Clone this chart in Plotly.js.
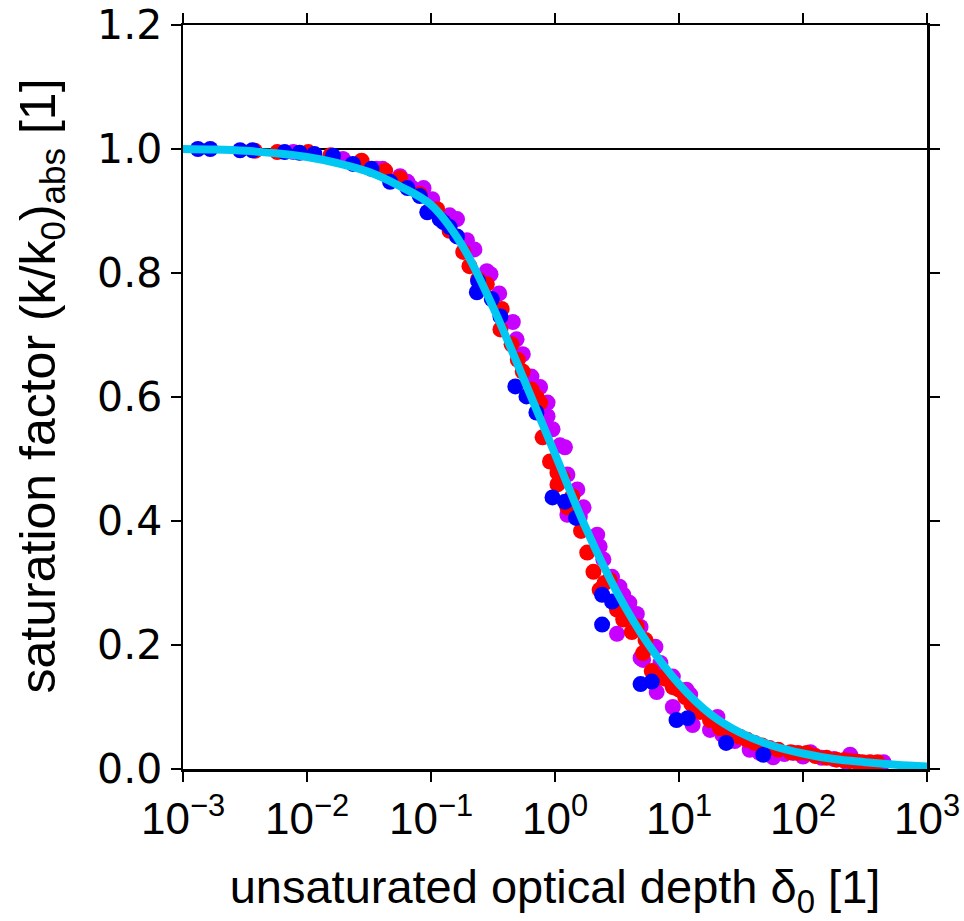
<!DOCTYPE html>
<html><head><meta charset="utf-8">
<script src="https://cdn.plot.ly/plotly-3.0.1.min.js"></script>
<style>body{margin:0;background:#fff}</style>
</head><body><div id="chart" style="width:964px;height:921px"></div>
<script>
// log10 of unsaturated optical depth and saturation factor
const curveLogDelta = [-3,-2.75,-2.5,-2.25,-2,-1.75,-1.5,-1.25,-1,-0.75,-0.5,-0.25,0,0.25,0.5,0.75,1,1.25,1.5,1.75,2,2.25,2.5,2.75,3];
const curveFactor = [1.000,0.999,0.997,0.993,0.987,0.977,0.963,0.940,0.910,0.845,0.745,0.628,0.508,0.388,0.285,0.202,0.137,0.089,0.058,0.038,0.025,0.016,0.011,0.007,0.004];

const violetLogDelta = [-2.11,-1.71,-1.44,-1.39,-1.25,-1.19,-1.15,-1.06,-0.99,-0.85,-0.79,-0.71,-0.65,-0.55,-0.52,-0.45,-0.34,-0.31,-0.26,-0.19,-0.12,-0.06,-0.06,-0.02,0.04,0.08,0.10,0.18,0.23,0.10,0.20,0.34,0.36,0.39,0.46,0.52,0.55,0.60,0.66,0.50,0.69,0.69,0.81,0.71,0.85,0.95,1.06,0.82,0.95,1.09,1.11,1.31,1.35,1.25,1.41,1.57,1.65,1.76,1.92,2.06,2.38,2.35,2.62,2.65,1.45,1.70,1.85,2.00,2.15,2.25,2.45,2.55];
const violetFactor = [0.995,0.984,0.968,0.968,0.956,0.947,0.937,0.937,0.919,0.893,0.887,0.853,0.838,0.803,0.798,0.767,0.721,0.693,0.669,0.633,0.616,0.591,0.569,0.548,0.522,0.519,0.475,0.451,0.422,0.410,0.407,0.378,0.359,0.338,0.310,0.294,0.281,0.268,0.250,0.218,0.229,0.179,0.197,0.176,0.171,0.149,0.128,0.124,0.100,0.120,0.071,0.084,0.055,0.063,0.047,0.031,0.026,0.019,0.026,0.027,0.023,0.011,0.010,0.011,0.045,0.028,0.024,0.020,0.018,0.016,0.011,0.010];

const redLogDelta = [-2.42,-2.24,-1.99,-1.81,-1.56,-1.37,-1.25,-1.09,-0.95,-0.85,-0.74,-0.69,-0.55,-0.43,-0.44,-0.35,-0.26,-0.19,-0.12,-0.10,-0.04,0.02,0.02,0.10,0.21,0.26,0.31,0.36,0.44,0.50,0.55,0.62,0.73,0.71,0.78,0.86,0.95,1.05,1.17,1.25,1.33,1.49,1.61,1.73,1.90,2.03,2.19,2.27,2.38,2.48,2.60,-0.62,-0.30,-0.15,0.06,0.14,0.40,0.66,0.90,1.00,1.10,1.40,1.55,1.67,1.80,1.96,2.10,2.33,2.43,2.54];
const redFactor = [0.997,0.995,0.995,0.990,0.981,0.965,0.953,0.927,0.903,0.868,0.834,0.811,0.782,0.742,0.709,0.685,0.641,0.612,0.591,0.535,0.496,0.478,0.459,0.422,0.384,0.349,0.318,0.289,0.305,0.257,0.241,0.221,0.208,0.187,0.158,0.147,0.132,0.116,0.092,0.079,0.066,0.052,0.042,0.034,0.027,0.026,0.018,0.015,0.013,0.011,0.011,0.790,0.660,0.600,0.470,0.440,0.300,0.230,0.145,0.128,0.105,0.060,0.047,0.038,0.031,0.026,0.021,0.014,0.012,0.011];

const blueLogDelta = [-2.88,-2.78,-2.54,-2.44,-2.18,-2.06,-1.94,-1.79,-1.63,-1.48,-1.33,-1.19,-1.09,-1.03,-0.93,-0.90,-0.85,-0.79,-0.62,-0.63,-0.51,-0.44,-0.32,-0.23,-0.15,-0.02,0.08,0.17,0.38,0.46,0.38,0.69,0.78,0.98,1.07,1.38,1.68];
const blueFactor = [1.000,1.000,0.998,0.998,0.995,0.994,0.992,0.989,0.976,0.968,0.947,0.937,0.924,0.898,0.887,0.882,0.874,0.859,0.787,0.769,0.758,0.730,0.617,0.601,0.575,0.438,0.431,0.405,0.281,0.270,0.233,0.137,0.141,0.079,0.082,0.042,0.023];

const refLineDelta = [0.001, 1000];
const refLineFactor = [1, 1];

const xTickVals = [0.001, 0.01, 0.1, 1, 10, 100, 1000];
const xTickText = ['10<sup>\u22123</sup>','10<sup>\u22122</sup>','10<sup>\u22121</sup>','10<sup>0</sup>','10<sup>1</sup>','10<sup>2</sup>','10<sup>3</sup>'];
const yTickVals = [0, 0.2, 0.4, 0.6, 0.8, 1.0, 1.2];
const yTickText = ['0.0','0.2','0.4','0.6','0.8','1.0','1.2'];

const xTitle = 'unsaturated optical depth \u03b4<sub>0</sub> [1]';
const yTitle = 'saturation factor (k/k<sub>0</sub>)<sub>abs</sub> [1]';

const toDelta = a => a.map(L => Math.pow(10, L));
const FONT = 'Liberation Sans, Arial, Helvetica, sans-serif';
const MS = 16;

const traces = [
  {x: refLineDelta, y: refLineFactor, mode: 'lines', line: {color: '#000', width: 2}, hoverinfo: 'skip'},
  {x: toDelta(violetLogDelta), y: violetFactor, mode: 'markers', marker: {color: '#c800ff', size: MS}},
  {x: toDelta(redLogDelta), y: redFactor, mode: 'markers', marker: {color: '#ff0000', size: MS}},
  {x: toDelta(blueLogDelta), y: blueFactor, mode: 'markers', marker: {color: '#0000ff', size: MS}},
  {x: toDelta(curveLogDelta), y: curveFactor, mode: 'lines', line: {color: '#00c8f2', width: 8, shape: 'spline'}}
];

const axisCommon = {
  showline: true, linecolor: '#000', linewidth: 2.5, mirror: 'ticks',
  ticks: 'outside', ticklen: 10, tickwidth: 2, tickcolor: '#000',
  showgrid: false, zeroline: false, tickmode: 'array'
};

const layout = {
  width: 964, height: 921,
  margin: {l: 183, r: 37, t: 25, b: 152},
  paper_bgcolor: '#fff', plot_bgcolor: '#fff',
  showlegend: false,
  font: {family: FONT, color: '#000'},
  xaxis: Object.assign({}, axisCommon, {
    type: 'log', range: [-3, 3],
    tickvals: xTickVals, ticktext: xTickText,
    tickfont: {size: 44, family: FONT},
    title: {text: xTitle, font: {size: 47, family: FONT}, standoff: 28}
  }),
  yaxis: Object.assign({}, axisCommon, {
    range: [0, 1.2],
    tickvals: yTickVals, ticktext: yTickText,
    tickfont: {size: 41, family: 'DejaVu Sans, Verdana, sans-serif'},
    title: {text: ''}
  }),
  annotations: [{
    text: yTitle, xref: 'paper', yref: 'paper', x: -0.19, y: 0.515,
    xanchor: 'center', yanchor: 'middle', textangle: -90, showarrow: false,
    font: {size: 50, family: FONT, color: '#000'}
  }]
};

Plotly.newPlot('chart', traces, layout, {displayModeBar: false, staticPlot: true});
</script></body></html>
